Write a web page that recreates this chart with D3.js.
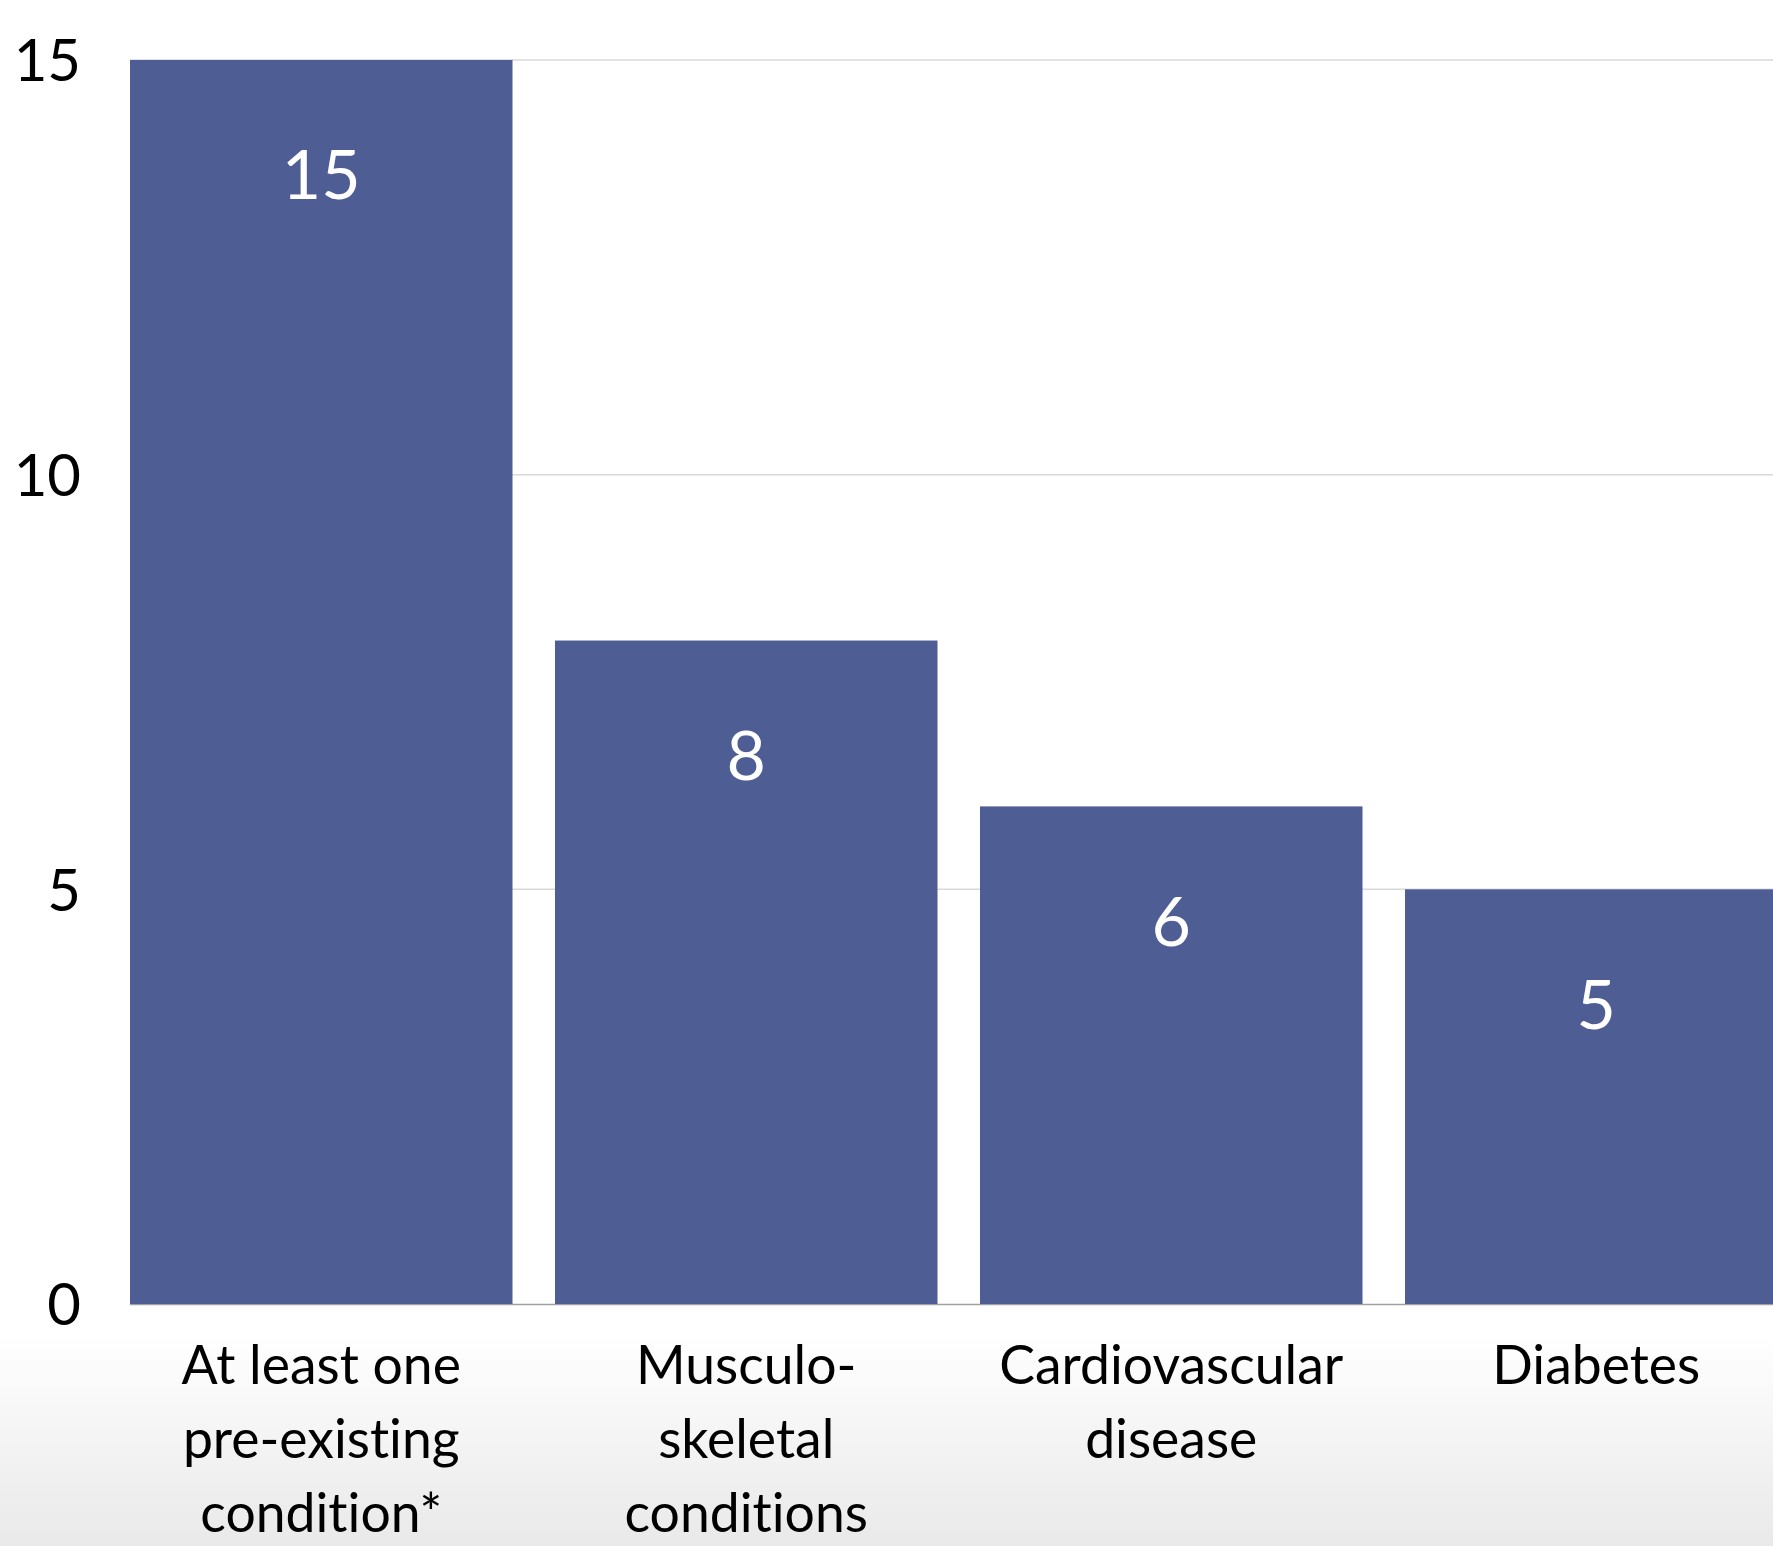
<!DOCTYPE html>
<meta charset="utf-8">
<style>

body {
  margin: 0;
  background: #ffffff;
  overflow: hidden;
}

svg {
  display: block;
  font-family: "Lato", "Open Sans", sans-serif;
  font-variant-ligatures: none;
}

.grid line {
  stroke: #d9d9d9;
  stroke-width: 1.5;
}

.axis--y text {
  fill: #000000;
  font-family: "Lato", sans-serif;
  font-size: 58px;
}

.bar-label {
  fill: #ffffff;
  font-size: 68px;
  font-weight: 400;
}

.cat-label {
  fill: #000000;
  font-size: 53.5px;
}

</style>

<svg width="1773" height="1546"></svg>

<script src="https://d3js.org/d3.v7.min.js"></script>
<script>

// data
var categories = [
  ["At least one", "pre-existing", "condition*"],
  ["Musculo-", "skeletal", "conditions"],
  ["Cardiovascular", "disease"],
  ["Diabetes"]
];
var values = [15, 8, 6, 5];
var yTicks = [0, 5, 10, 15];

var data = values.map(function(v, i) {
  return {key: "c" + i, lines: categories[i], value: v};
});

var svg = d3.select("svg"),
    width = +svg.attr("width"),
    height = +svg.attr("height");

// chart area, right side runs off the page like the original
var margin = {top: 60, left: 130, bottom: 1304},
    step = 425,
    pad = 0.1;

var x = d3.scaleBand()
    .domain(data.map(function(d) { return d.key; }))
    .range([margin.left, margin.left + step * (data.length - pad)])
    .paddingInner(pad)
    .paddingOuter(0);

var y = d3.scaleLinear()
    .domain([0, 15])
    .range([margin.bottom, margin.top]);

// soft grey fade at the bottom of the page
var defs = svg.append("defs");
var grad = defs.append("linearGradient")
    .attr("id", "fade")
    .attr("x1", 0).attr("y1", 0)
    .attr("x2", 0).attr("y2", 1);
grad.append("stop").attr("offset", "0%").attr("stop-color", "#ffffff");
grad.append("stop").attr("offset", "100%").attr("stop-color", "#e9e9e9");

svg.append("rect")
    .attr("x", 0)
    .attr("y", margin.bottom + 30)
    .attr("width", width)
    .attr("height", height - margin.bottom - 30)
    .attr("fill", "url(#fade)");

// gridlines
svg.append("g")
    .attr("class", "grid")
  .selectAll("line")
  .data(yTicks.filter(function(t) { return t > 0; }))
  .enter().append("line")
    .attr("x1", margin.left)
    .attr("x2", width)
    .attr("y1", function(d) { return y(d); })
    .attr("y2", function(d) { return y(d); });

// baseline
svg.append("line")
    .attr("x1", margin.left)
    .attr("x2", width)
    .attr("y1", y(0) + 0.5)
    .attr("y2", y(0) + 0.5)
    .attr("stroke", "#a0a0a0")
    .attr("stroke-width", 1.5);

// y axis, just labels
var yAxis = svg.append("g")
    .attr("class", "axis axis--y")
    .attr("transform", "translate(" + 81 + ",0)")
    .call(d3.axisLeft(y).tickValues(yTicks).tickSize(0).tickPadding(0));

// d3 puts its own font on the group, drop it so the css wins
yAxis.attr("font-family", null).attr("font-size", null);
yAxis.select(".domain").remove();
yAxis.selectAll("text")
    .attr("dy", "0.36em");

// bars
svg.selectAll(".bar")
  .data(data)
  .enter().append("rect")
    .attr("class", "bar")
    .attr("fill", "#4e5d93")
    .attr("x", function(d) { return x(d.key); })
    .attr("y", function(d) { return y(d.value); })
    .attr("width", x.bandwidth())
    .attr("height", function(d) { return y(0) - y(d.value); });

// value labels inside bars
svg.selectAll(".bar-label")
  .data(data)
  .enter().append("text")
    .attr("class", "bar-label")
    .attr("text-anchor", "middle")
    .attr("x", function(d) { return x(d.key) + x.bandwidth() / 2; })
    .attr("y", function(d) { return y(d.value) + 115; })
    .attr("dy", "0.36em")
    .text(function(d) { return d.value; });

// category labels, several lines each
var cats = svg.selectAll(".cat-label")
  .data(data)
  .enter().append("text")
    .attr("class", "cat-label")
    .attr("text-anchor", "middle")
    .attr("x", function(d) { return x(d.key) + x.bandwidth() / 2; })
    .attr("y", 1384);

cats.selectAll("tspan")
  .data(function(d) { return d.lines; })
  .enter().append("tspan")
    .attr("x", function() { return d3.select(this.parentNode).attr("x"); })
    .attr("dy", function(d, i) { return i === 0 ? 0 : 74; })
    .text(function(d) { return d; });

</script>
